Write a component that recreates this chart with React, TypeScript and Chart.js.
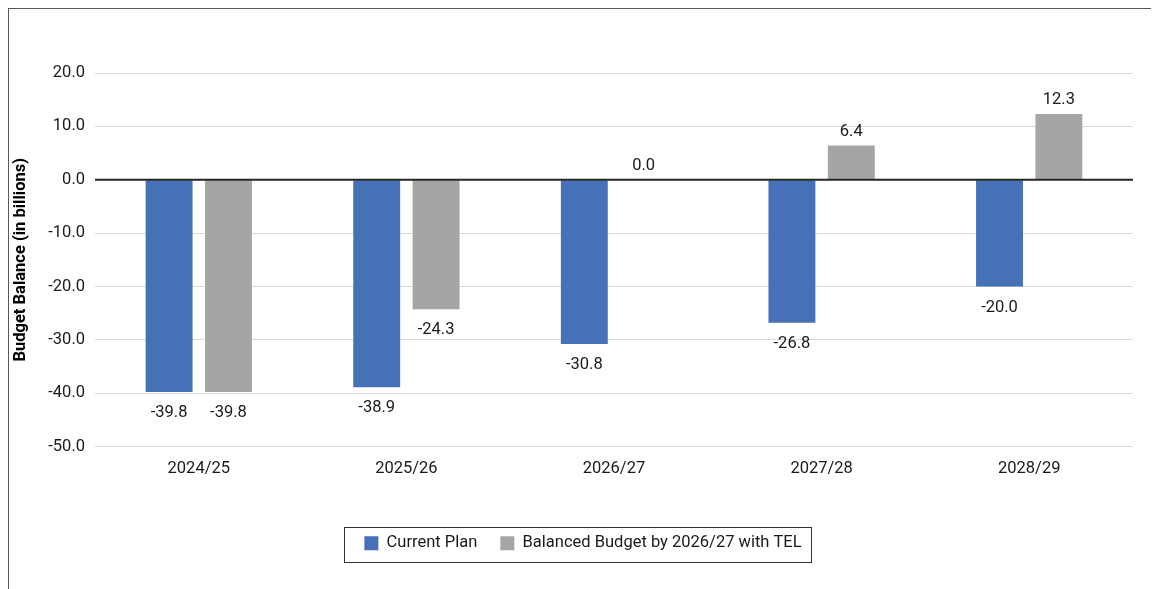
import React, { useEffect, useRef } from "react";
import { Chart, registerables } from "chart.js";

Chart.register(...registerables);

const categories = ["2024/25", "2025/26", "2026/27", "2027/28", "2028/29"];
const currentPlan = [-39.8, -38.9, -30.8, -26.8, -20.0];
const balancedBudget = [-39.8, -24.3, 0.0, 6.4, 12.3];
const seriesNames = ["Current Plan", "Balanced Budget by 2026/27 with TEL"];
const yAxisTitle = "Budget Balance (in billions)";
const yMin = -50;
const yMax = 20;
const yStep = 10;

const FONT = "Roboto";
const TEXT = "#1a1a1a";
const FS = 16.5;

const dataLabelPlugin = {
  id: "dataLabels",
  afterDatasetsDraw(chart: any) {
    const ctx = chart.ctx;
    const ys = chart.scales.y;
    const y0 = ys.getPixelForValue(0);
    ctx.save();
    ctx.strokeStyle = "#262626";
    ctx.lineWidth = 2;
    ctx.beginPath();
    ctx.moveTo(chart.chartArea.left, y0);
    ctx.lineTo(chart.chartArea.right, y0);
    ctx.stroke();
    ctx.font = `${FS}px ${FONT}`;
    ctx.fillStyle = TEXT;
    ctx.textAlign = "center";
    ctx.textBaseline = "middle";
    chart.data.datasets.forEach((ds: any, di: number) => {
      const meta = chart.getDatasetMeta(di);
      meta.data.forEach((bar: any, i: number) => {
        const v = ds.data[i] as number;
        const y = v >= 0 ? bar.y - 14 : bar.y + 21;
        ctx.fillText(v.toFixed(1), bar.x, y);
      });
    });
    ctx.restore();
  },
};

const legendBoxPlugin = {
  id: "legendBox",
  afterDraw(chart: any) {
    const lg = chart.legend;
    if (!lg || !lg.legendHitBoxes || !lg.legendHitBoxes.length) return;
    const hbs = lg.legendHitBoxes;
    const first = hbs[0];
    const last = hbs[hbs.length - 1];
    const left = first.left - 20;
    const right = last.left + last.width + 10;
    const top = first.top - 8.5;
    const bottom = first.top + 26;
    const ctx = chart.ctx;
    ctx.save();
    ctx.strokeStyle = "#333333";
    ctx.lineWidth = 1;
    ctx.strokeRect(Math.round(left) + 0.5, Math.round(top) + 0.5, Math.round(right - left), Math.round(bottom - top));
    ctx.restore();
  },
};

export default function App() {
  const ref = useRef<HTMLCanvasElement | null>(null);
  useEffect(() => {
    if (!ref.current) return;
    const chart = new Chart(ref.current, {
      type: "bar",
      data: {
        labels: categories,
        datasets: [
          {
            label: seriesNames[0],
            data: currentPlan,
            backgroundColor: "#4671B7",
            categoryPercentage: 0.572,
            barPercentage: 0.79,
          },
          {
            label: seriesNames[1],
            data: balancedBudget,
            backgroundColor: "#A5A5A5",
            categoryPercentage: 0.572,
            barPercentage: 0.79,
          },
        ],
      },
      options: {
        responsive: false,
        animation: false,
        layout: { padding: { top: 64, right: 26, bottom: 27.5, left: 24 } },
        plugins: {
          tooltip: { enabled: false },
          legend: {
            position: "bottom",
            labels: {
              boxWidth: 14,
              boxHeight: 14,
              padding: 23,
              color: TEXT,
              font: { family: FONT, size: FS },
            },
          },
        },
        scales: {
          x: {
            grid: { display: false, drawTicks: false },
            border: { display: false },
            ticks: { color: TEXT, font: { family: FONT, size: FS }, padding: 12 },
            afterFit: (s: any) => {
              s.height = 65.5;
            },
          },
          y: {
            min: yMin,
            max: yMax,
            grid: {
              drawTicks: false,
              color: "#d9d9d9",
              lineWidth: 1,
            },
            border: { display: false },
            ticks: {
              stepSize: yStep,
              padding: 10,
              color: TEXT,
              font: { family: FONT, size: FS },
              callback: (v: any) => Number(v).toFixed(1),
            },
            title: {
              display: true,
              text: yAxisTitle,
              color: "#000",
              font: { family: FONT, size: 16.5, weight: "bold" },
              padding: { top: -22, bottom: 4 },
            },
            afterFit: (s: any) => {
              s.width = 62;
            },
          },
        },
      },
      plugins: [dataLabelPlugin, legendBoxPlugin],
    });
    return () => chart.destroy();
  }, []);

  return (
    <div style={{ position: "relative", width: 1151, height: 581, overflow: "hidden" }}>
      <div
        style={{
          position: "absolute",
          left: 0,
          top: 0,
          width: 1300,
          height: 700,
          borderTop: "1px solid #595959",
          borderLeft: "1px solid #595959",
        }}
      >
        <canvas ref={ref} width={1150} height={580} style={{ display: "block", width: 1150, height: 580 }} />
      </div>
    </div>
  );
}
